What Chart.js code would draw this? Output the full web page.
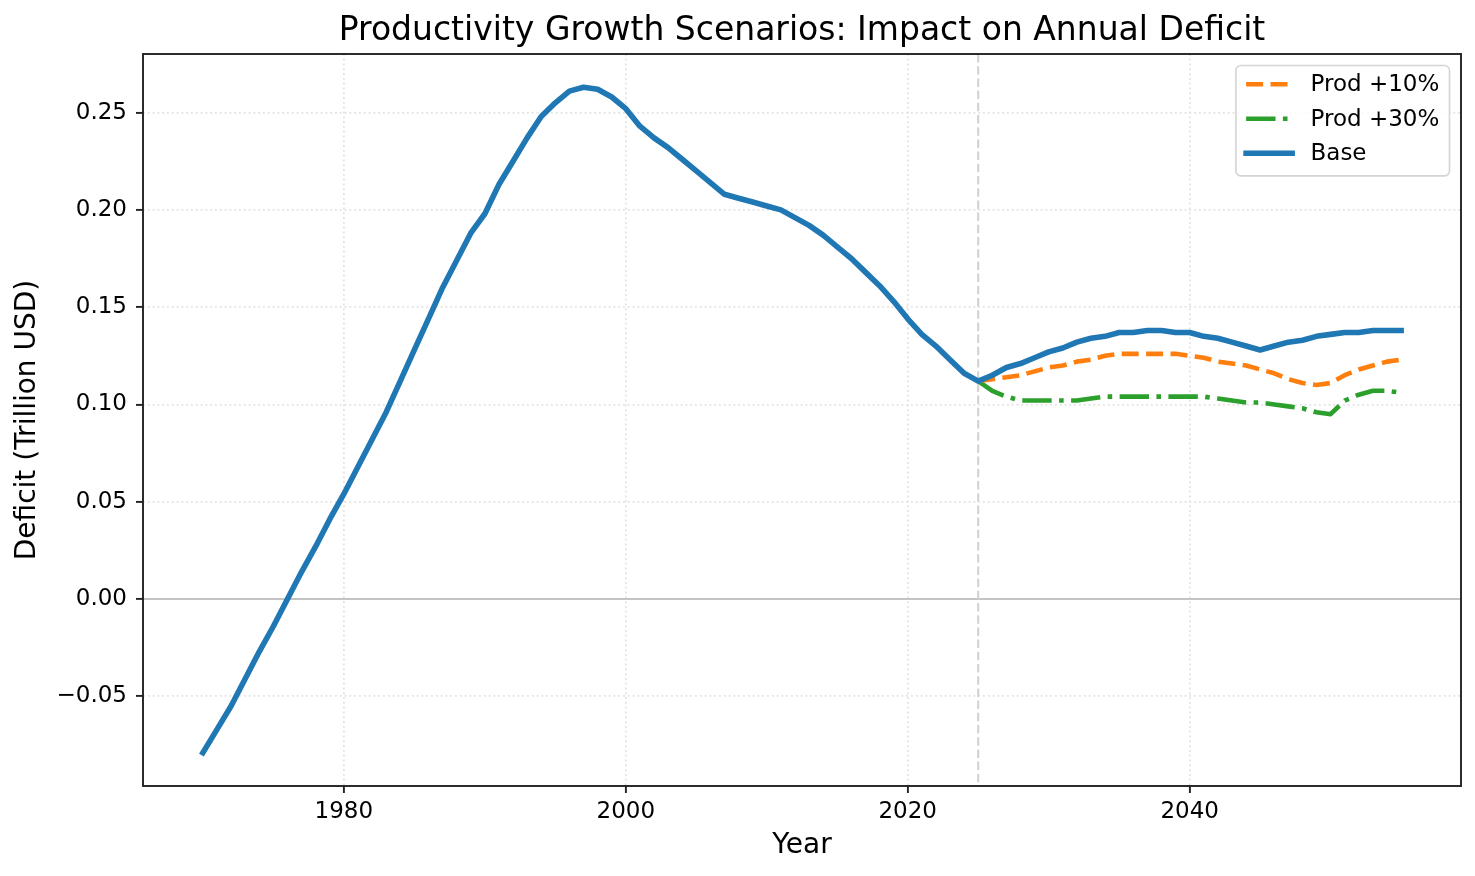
<!DOCTYPE html>
<html>
<head>
<meta charset="utf-8">
<title>Productivity Growth Scenarios: Impact on Annual Deficit</title>
<script src="https://cdn.jsdelivr.net/npm/chart.js@4.4.0/dist/chart.umd.min.js"></script>
<style>
    html, body { margin: 0; padding: 0; background: #ffffff; }
    #wrap { width: 1475px; height: 876px; }
</style>
</head>
<body>
<div id="wrap"><canvas id="chart" width="1475" height="876"></canvas></div>
<script>
// Historical + base projection (trillion USD)
const years = [
    1970, 1971, 1972, 1973, 1974, 1975, 1976, 1977, 1978, 1979,
    1980, 1981, 1982, 1983, 1984, 1985, 1986, 1987, 1988, 1989,
    1990, 1991, 1992, 1993, 1994, 1995, 1996, 1997, 1998, 1999,
    2000, 2001, 2002, 2003, 2004, 2005, 2006, 2007, 2008, 2009,
    2010, 2011, 2012, 2013, 2014, 2015, 2016, 2017, 2018, 2019,
    2020, 2021, 2022, 2023, 2024, 2025, 2026, 2027, 2028, 2029,
    2030, 2031, 2032, 2033, 2034, 2035, 2036, 2037, 2038, 2039,
    2040, 2041, 2042, 2043, 2044, 2045, 2046, 2047, 2048, 2049,
    2050, 2051, 2052, 2053, 2054, 2055
];
const baseDeficit = [
    -0.079, -0.067, -0.055, -0.041, -0.027, -0.014, 0.000, 0.014, 0.027, 0.041,
    0.054, 0.068, 0.082, 0.096, 0.112, 0.128, 0.144, 0.160, 0.174, 0.188,
    0.198, 0.213, 0.225, 0.237, 0.248, 0.255, 0.261, 0.263, 0.262, 0.258,
    0.252, 0.243, 0.237, 0.232, 0.226, 0.220, 0.214, 0.208, 0.206, 0.204,
    0.202, 0.200, 0.196, 0.192, 0.187, 0.181, 0.175, 0.168, 0.161, 0.153,
    0.144, 0.136, 0.130, 0.123, 0.116, 0.112, 0.115, 0.119, 0.121, 0.124,
    0.127, 0.129, 0.132, 0.134, 0.135, 0.137, 0.137, 0.138, 0.138, 0.137,
    0.137, 0.135, 0.134, 0.132, 0.130, 0.128, 0.130, 0.132, 0.133, 0.135,
    0.136, 0.137, 0.137, 0.138, 0.138, 0.138
];

// Scenario projections
const scenarioYears = [
    2025, 2026, 2027, 2028, 2029, 2030, 2031, 2032, 2033, 2034,
    2035, 2036, 2037, 2038, 2039, 2040, 2041, 2042, 2043, 2044,
    2045, 2046, 2047, 2048, 2049, 2050, 2051, 2052, 2053, 2054, 2055
];
const prod10 = [
    0.112, 0.113, 0.114, 0.115, 0.117, 0.119, 0.120, 0.122, 0.123, 0.125,
    0.126, 0.126, 0.126, 0.126, 0.126, 0.125, 0.124, 0.122, 0.121, 0.120,
    0.118, 0.116, 0.113, 0.111, 0.110, 0.111, 0.115, 0.118, 0.120, 0.122, 0.123
];
const prod30 = [
    0.112, 0.107, 0.104, 0.102, 0.102, 0.102, 0.102, 0.102, 0.103, 0.104,
    0.104, 0.104, 0.104, 0.104, 0.104, 0.104, 0.104, 0.103, 0.102, 0.101,
    0.101, 0.100, 0.099, 0.098, 0.096, 0.095, 0.102, 0.105, 0.107, 0.107, 0.106
];

const xTicks = [1980, 2000, 2020, 2040];
const yTicks = [-0.05, 0.00, 0.05, 0.10, 0.15, 0.20, 0.25];
const projectionStart = 2025;

const FONT = "'DejaVu Sans', 'Liberation Sans', sans-serif";
Chart.defaults.font.family = FONT;
Chart.defaults.color = '#000000';

function toPoints(xs, ys) {
    return xs.map((x, i) => ({ x: x, y: ys[i] }));
}

// matplotlib-like 5% margins
const xSpan = years[years.length - 1] - years[0];
const allValues = baseDeficit.concat(prod10, prod30);
const yLo = Math.min(...allValues);
const yHi = Math.max(...allValues);
const ySpan = yHi - yLo;

// dashed line at projection start and solid line at zero
const refLines = {
    id: 'refLines',
    beforeDatasetsDraw(chart) {
        const { ctx, chartArea: a, scales } = chart;
        ctx.save();
        ctx.beginPath();
        ctx.rect(a.left, a.top, a.right - a.left, a.bottom - a.top);
        ctx.clip();

        const y0 = scales.y.getPixelForValue(0);
        ctx.strokeStyle = '#c4c4c4';
        ctx.lineWidth = 2.2;
        ctx.setLineDash([]);
        ctx.beginPath();
        ctx.moveTo(a.left, y0);
        ctx.lineTo(a.right, y0);
        ctx.stroke();

        const xv = scales.x.getPixelForValue(projectionStart);
        ctx.strokeStyle = '#d0d0d0';
        ctx.lineWidth = 2;
        ctx.setLineDash([8.5, 3.7]);
        ctx.beginPath();
        ctx.moveTo(xv, a.top);
        ctx.lineTo(xv, a.bottom);
        ctx.stroke();
        ctx.restore();
    }
};

// axes frame on all four sides
const frame = {
    id: 'frame',
    afterDatasetsDraw(chart) {
        const { ctx, chartArea: a } = chart;
        ctx.save();
        ctx.strokeStyle = '#222222';
        ctx.lineWidth = 1.9;
        ctx.setLineDash([]);
        ctx.strokeRect(a.left, a.top, a.right - a.left, a.bottom - a.top);
        ctx.restore();
    }
};

// legend box in the upper right of the plot
const boxLegend = {
    id: 'boxLegend',
    afterDraw(chart) {
        const { ctx, chartArea: a } = chart;
        const fs = 23;
        const pad = 0.4 * fs;
        const handle = 2 * fs;
        const gap = 0.8 * fs;
        const spacing = 0.5 * fs;
        const items = chart.data.datasets;

        ctx.save();
        ctx.font = fs + 'px ' + FONT;
        const textW = Math.max(...items.map(d => ctx.measureText(d.label).width));
        const w = pad + handle + gap + textW + pad + 2;
        const h = 2 * pad + items.length * fs + (items.length - 1) * spacing;
        const right = a.right - 0.5 * fs;
        const left = right - w;
        const top = a.top + 0.5 * fs;

        ctx.beginPath();
        ctx.roundRect(left, top, w, h, 5);
        ctx.fillStyle = 'rgba(255,255,255,0.8)';
        ctx.fill();
        ctx.strokeStyle = '#d4d4d4';
        ctx.lineWidth = 1.6;
        ctx.stroke();

        items.forEach((d, i) => {
            const cy = top + pad + fs / 2 - 2 + i * (fs + spacing);
            ctx.strokeStyle = d.borderColor;
            ctx.lineWidth = d.borderWidth;
            ctx.lineCap = d.borderCapStyle || 'butt';
            ctx.setLineDash(d.borderDash || []);
            ctx.beginPath();
            ctx.moveTo(left + pad + 1, cy);
            ctx.lineTo(left + pad + 1 + handle, cy);
            ctx.stroke();

            ctx.setLineDash([]);
            ctx.fillStyle = '#000000';
            ctx.textBaseline = 'middle';
            ctx.textAlign = 'left';
            ctx.fillText(d.label, left + pad + 1 + handle + gap, cy + 1);
        });
        ctx.restore();
    }
};

const gridStyle = {
    color: '#e2e2e2',
    lineWidth: 1.8,
    drawTicks: true,
    tickLength: 7,
    tickColor: '#222222',
    tickWidth: 1.9,
    tickBorderDash: []
};

new Chart(document.getElementById('chart'), {
    type: 'line',
    data: {
        datasets: [{
            label: 'Prod +10%',
            data: toPoints(scenarioYears, prod10),
            borderColor: '#ff7f0e',
            borderWidth: 4.6,
            borderDash: [17, 7.4],
            borderCapStyle: 'butt',
            borderJoinStyle: 'round',
            order: 1
        }, {
            label: 'Prod +30%',
            data: toPoints(scenarioYears, prod30),
            borderColor: '#2ca02c',
            borderWidth: 4.6,
            borderDash: [29.4, 7.4, 4.6, 7.4],
            borderCapStyle: 'butt',
            borderJoinStyle: 'round',
            order: 2
        }, {
            label: 'Base',
            data: toPoints(years, baseDeficit),
            borderColor: '#1f77b4',
            borderWidth: 5.6,
            borderCapStyle: 'square',
            borderJoinStyle: 'round',
            order: 0
        }]
    },
    options: {
        responsive: false,
        devicePixelRatio: 1,
        animation: false,
        layout: { padding: { left: 0, right: 14, top: 0, bottom: 0 } },
        elements: {
            point: { radius: 0, hoverRadius: 0 },
            line: { tension: 0, fill: false }
        },
        plugins: {
            legend: { display: false },
            tooltip: { enabled: false },
            title: {
                display: true,
                fullSize: false,
                text: 'Productivity Growth Scenarios: Impact on Annual Deficit',
                font: { size: 33, weight: 'normal' },
                color: '#000000',
                padding: { top: 12, bottom: 2.4 }
            }
        },
        scales: {
            x: {
                type: 'linear',
                min: years[0] - 0.05 * xSpan,
                max: years[years.length - 1] + 0.05 * xSpan,
                afterBuildTicks: axis => { axis.ticks = xTicks.map(v => ({ value: v })); },
                afterFit: axis => { axis.height = 90; },
                grid: gridStyle,
                border: { display: false, dash: [1.8, 3] },
                ticks: {
                    font: { size: 23 },
                    color: '#000000',
                    padding: 5,
                    maxRotation: 0,
                    callback: v => String(v)
                },
                title: {
                    display: true,
                    text: 'Year',
                    font: { size: 28 },
                    color: '#000000',
                    padding: { top: 0, bottom: 13 }
                }
            },
            y: {
                type: 'linear',
                min: yLo - 0.05 * ySpan,
                max: yHi + 0.05 * ySpan,
                afterBuildTicks: axis => { axis.ticks = yTicks.map(v => ({ value: v })); },
                afterFit: axis => { axis.width = 143; },
                grid: gridStyle,
                border: { display: false, dash: [1.8, 3] },
                ticks: {
                    font: { size: 23 },
                    color: '#000000',
                    padding: 9,
                    callback: v => (v < -1e-9 ? '\u2212' : '') + Math.abs(v).toFixed(2)
                },
                title: {
                    display: true,
                    text: 'Deficit (Trillion USD)',
                    font: { size: 28 },
                    color: '#000000',
                    padding: { top: 11, bottom: 0 }
                }
            }
        }
    },
    plugins: [refLines, frame, boxLegend]
});
</script>
</body>
</html>
